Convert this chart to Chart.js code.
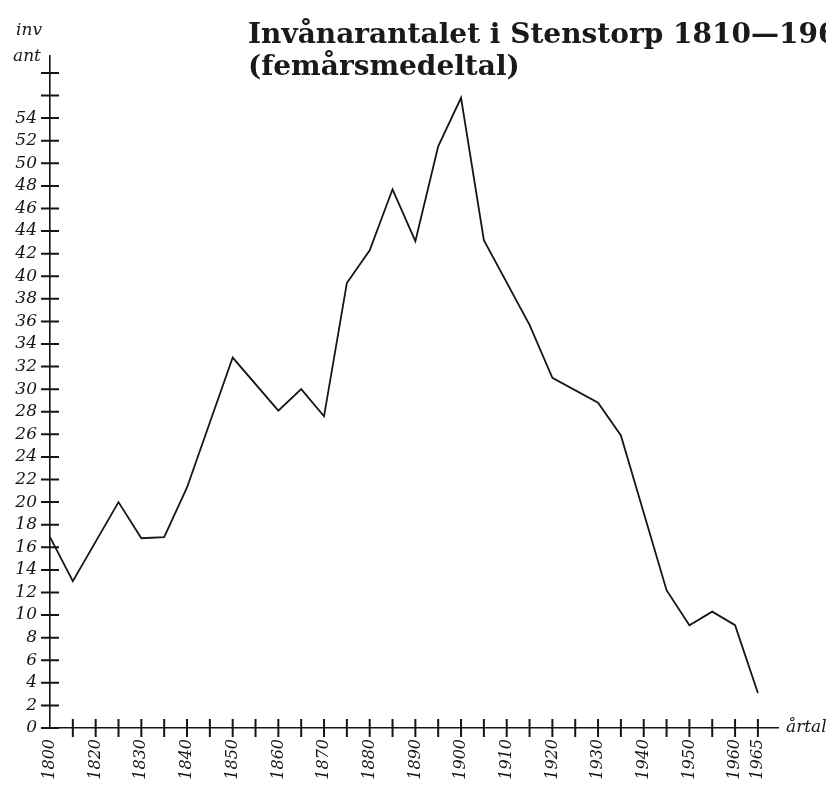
<!DOCTYPE html>
<html lang="sv">
<head>
<meta charset="utf-8">
<title>Invånarantalet i Stenstorp</title>
<script src="https://cdn.jsdelivr.net/npm/chart.js@4.4.1/dist/chart.umd.min.js"></script>
<style>
  html, body { margin: 0; padding: 0; background: #fff; overflow: hidden; }
  #wrap { position: relative; width: 826px; height: 807px; overflow: hidden; }
  #myChart { position: absolute; left: 0; top: 0; }
  .lbl { position: absolute; white-space: nowrap; color: #1a1a1a; font-family: "DejaVu Serif", serif; }
  #title { left: 248px; top: 18px; font-size: 28px; line-height: 32px; font-weight: bold; }
  .it { font-style: italic; font-size: 17px; line-height: 20px; }
</style>
</head>
<body>
<div id="wrap">
  <canvas id="myChart" width="826" height="807"></canvas>
  <div id="title" class="lbl">Invånarantalet i Stenstorp 1810—1965<br>(femårsmedeltal)</div>
  <div class="lbl it" style="left:16px; top:19px;">inv</div>
  <div class="lbl it" style="left:13px; top:45px;">ant</div>
  <div class="lbl it" style="left:786px; top:716px;">årtal</div>
</div>
<script>
// years of the five-year averages (vertices of the line) and inhabitants
var years = [1810, 1815, 1825, 1830, 1835, 1840, 1850, 1860, 1865, 1870, 1875, 1880, 1885,
             1890, 1895, 1900, 1905, 1915, 1920, 1930, 1935, 1945, 1950, 1955, 1960, 1965];
var inhabitants = [16.9, 13, 20, 16.8, 16.9, 21.3, 32.8, 28.1, 30, 27.6, 39.4, 42.3, 47.7,
                   43.1, 51.5, 55.8, 43.2, 35.7, 31, 28.8, 25.9, 12.2, 9.1, 10.3, 9.1, 3.1];

// x axis ticks every 5 years, only some are labelled (first one is printed 1800)
var xTicks = [];
for (var t = 1810; t <= 1965; t += 5) xTicks.push(t);
var xTickLabels = {1810: '1800', 1820: '1820', 1830: '1830', 1840: '1840', 1850: '1850',
                   1860: '1860', 1870: '1870', 1880: '1880', 1890: '1890', 1900: '1900',
                   1910: '1910', 1920: '1920', 1930: '1930', 1940: '1940', 1950: '1950',
                   1960: '1960', 1965: '1965'};
// y axis ticks every 2, labels up to 54
var yTicks = [];
for (var v = 0; v <= 58; v += 2) yTicks.push(v);
var yLabelMax = 54;

var points = [];
for (var i = 0; i < years.length; i++) points.push({x: years[i], y: inhabitants[i]});

var ink = '#151515';

// ticks that cross the axis line, like in the printed chart
var crossTicks = {
  id: 'crossTicks',
  afterDraw: function (chart) {
    var ctx = chart.ctx;
    var xs = chart.scales.x, ys = chart.scales.y;
    var area = chart.chartArea;
    ctx.save();
    ctx.strokeStyle = ink;
    ctx.lineWidth = 2;
    ctx.beginPath();
    xs.ticks.forEach(function (tk, idx) {
      if (idx === 0) return;
      var px = xs.getPixelForValue(tk.value);
      ctx.moveTo(px, area.bottom - 9);
      ctx.lineTo(px, area.bottom + 9);
    });
    ys.ticks.forEach(function (tk) {
      var py = ys.getPixelForValue(tk.value);
      ctx.moveTo(area.left - 9, py);
      ctx.lineTo(area.left + 9, py);
    });
    ctx.stroke();
    ctx.restore();
  }
};

const ctx = document.getElementById('myChart');
new Chart(ctx, {
  type: 'line',
  data: {
    datasets: [{
      label: 'Invånarantal',
      data: points,
      borderColor: ink,
      borderWidth: 1.8,
      pointRadius: 0,
      fill: false,
      tension: 0
    }]
  },
  options: {
    responsive: false,
    animation: false,
    devicePixelRatio: 1,
    layout: {padding: {top: 56, right: 48, left: 0, bottom: 0}},
    plugins: {
      legend: {display: false},
      tooltip: {enabled: false},
      title: {display: false}
    },
    scales: {
      x: {
        type: 'linear',
        min: 1810,
        max: 1969.4,
        afterBuildTicks: function (s) { s.ticks = xTicks.map(function (y) { return {value: y}; }); },
        afterFit: function (s) { s.height = 79; },
        grid: {drawOnChartArea: false, drawTicks: false},
        border: {color: ink, width: 1.6},
        ticks: {
          autoSkip: false,
          minRotation: 90,
          maxRotation: 90,
          padding: 11,
          color: ink,
          font: {family: '"DejaVu Serif", serif', style: 'italic', size: 16},
          callback: function (val) { return xTickLabels[val] || ''; }
        }
      },
      y: {
        min: 0,
        max: 59.5,
        afterBuildTicks: function (s) { s.ticks = yTicks.map(function (y) { return {value: y}; }); },
        afterFit: function (s) { s.width = 50; },
        grid: {drawOnChartArea: false, drawTicks: false},
        border: {color: ink, width: 1.6},
        ticks: {
          autoSkip: false,
          padding: 13,
          color: ink,
          font: {family: '"DejaVu Serif", serif', style: 'italic', size: 17},
          callback: function (val) { return val <= yLabelMax ? String(val) : ''; }
        }
      }
    }
  },
  plugins: [crossTicks]
});
</script>
</body>
</html>
